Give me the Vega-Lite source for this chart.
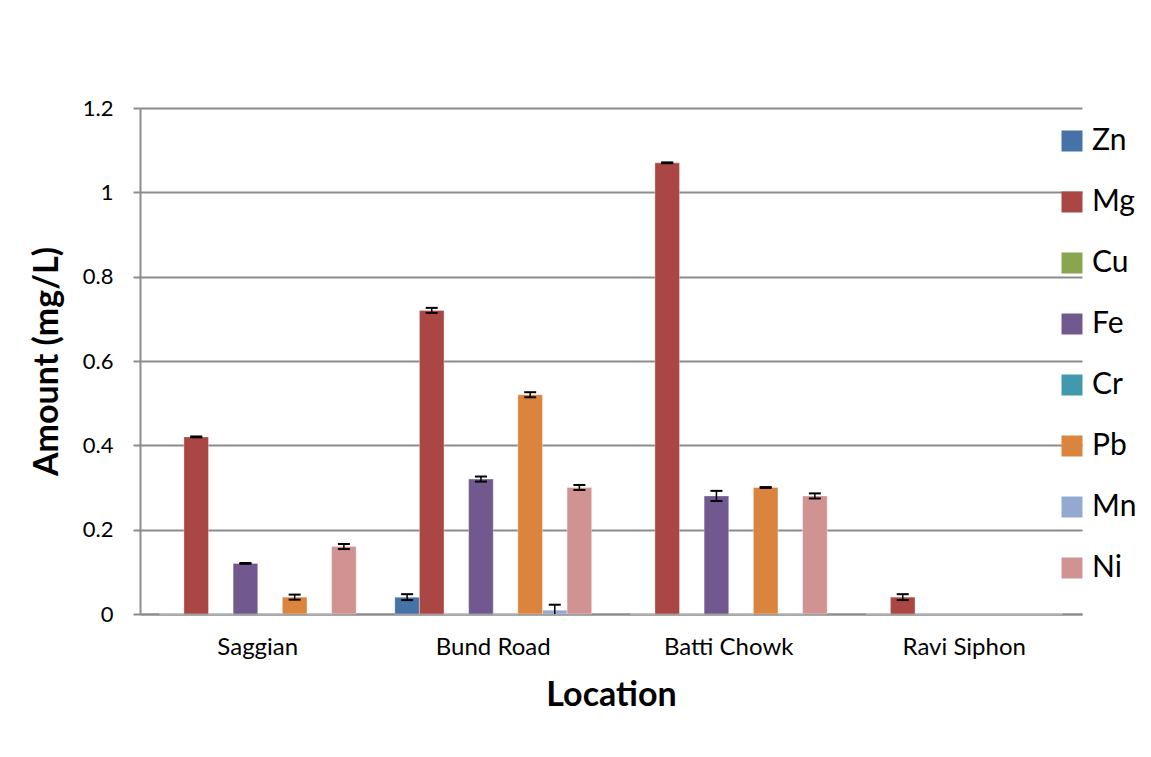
{
  "$schema": "https://vega.github.io/schema/vega-lite/v6.json",
  "width": 942,
  "height": 506,
  "autosize": {"type": "none"},
  "padding": {"left": 140, "top": 108, "right": 69, "bottom": 143},
  "background": "white",
  "config": {"view": {"stroke": null}, "font": "Lato"},
  "data": {
    "values": [
      {"location": "Saggian", "metal": "Zn", "value": 0, "lo": 0, "hi": 0},
      {"location": "Saggian", "metal": "Mg", "value": 0.42, "lo": 0.419, "hi": 0.421},
      {"location": "Saggian", "metal": "Cu", "value": 0, "lo": 0, "hi": 0},
      {"location": "Saggian", "metal": "Fe", "value": 0.12, "lo": 0.119, "hi": 0.121},
      {"location": "Saggian", "metal": "Cr", "value": 0, "lo": 0, "hi": 0},
      {"location": "Saggian", "metal": "Pb", "value": 0.04, "lo": 0.034, "hi": 0.046},
      {"location": "Saggian", "metal": "Mn", "value": 0, "lo": 0, "hi": 0},
      {"location": "Saggian", "metal": "Ni", "value": 0.16, "lo": 0.154, "hi": 0.166},
      {"location": "Bund Road", "metal": "Zn", "value": 0.04, "lo": 0.033, "hi": 0.047},
      {"location": "Bund Road", "metal": "Mg", "value": 0.72, "lo": 0.714, "hi": 0.726},
      {"location": "Bund Road", "metal": "Cu", "value": 0, "lo": 0, "hi": 0},
      {"location": "Bund Road", "metal": "Fe", "value": 0.32, "lo": 0.314, "hi": 0.326},
      {"location": "Bund Road", "metal": "Cr", "value": 0, "lo": 0, "hi": 0},
      {"location": "Bund Road", "metal": "Pb", "value": 0.52, "lo": 0.514, "hi": 0.526},
      {"location": "Bund Road", "metal": "Mn", "value": 0.009, "lo": 0, "hi": 0.022},
      {"location": "Bund Road", "metal": "Ni", "value": 0.30, "lo": 0.294, "hi": 0.306},
      {"location": "Batti Chowk", "metal": "Zn", "value": 0, "lo": 0, "hi": 0},
      {"location": "Batti Chowk", "metal": "Mg", "value": 1.07, "lo": 1.069, "hi": 1.071},
      {"location": "Batti Chowk", "metal": "Cu", "value": 0, "lo": 0, "hi": 0},
      {"location": "Batti Chowk", "metal": "Fe", "value": 0.28, "lo": 0.268, "hi": 0.292},
      {"location": "Batti Chowk", "metal": "Cr", "value": 0, "lo": 0, "hi": 0},
      {"location": "Batti Chowk", "metal": "Pb", "value": 0.30, "lo": 0.299, "hi": 0.301},
      {"location": "Batti Chowk", "metal": "Mn", "value": 0, "lo": 0, "hi": 0},
      {"location": "Batti Chowk", "metal": "Ni", "value": 0.28, "lo": 0.274, "hi": 0.286},
      {"location": "Ravi Siphon", "metal": "Zn", "value": 0, "lo": 0, "hi": 0},
      {"location": "Ravi Siphon", "metal": "Mg", "value": 0.04, "lo": 0.033, "hi": 0.047},
      {"location": "Ravi Siphon", "metal": "Cu", "value": 0, "lo": 0, "hi": 0},
      {"location": "Ravi Siphon", "metal": "Fe", "value": 0, "lo": 0, "hi": 0},
      {"location": "Ravi Siphon", "metal": "Cr", "value": 0, "lo": 0, "hi": 0},
      {"location": "Ravi Siphon", "metal": "Pb", "value": 0, "lo": 0, "hi": 0},
      {"location": "Ravi Siphon", "metal": "Mn", "value": 0, "lo": 0, "hi": 0},
      {"location": "Ravi Siphon", "metal": "Ni", "value": 0, "lo": 0, "hi": 0}
    ]
  },
  "encoding": {
    "x": {
      "field": "location",
      "type": "nominal",
      "sort": ["Saggian", "Bund Road", "Batti Chowk", "Ravi Siphon"],
      "scale": {"paddingInner": 0.164, "paddingOuter": 0.082},
      "title": "Location",
      "axis": {
        "labelAngle": 0,
        "labelFontSize": 24,
        "labelColor": "black",
        "labelPadding": 21,
        "ticks": false,
        "tickSize": 0,
        "domainColor": "#8c8c8c",
        "domainWidth": 2,
        "titleFontSize": 34,
        "titleFontWeight": "bold",
        "titleColor": "black",
        "titlePadding": 19
      }
    },
    "xOffset": {
      "field": "metal",
      "type": "nominal",
      "sort": ["Zn", "Mg", "Cu", "Fe", "Cr", "Pb", "Mn", "Ni"],
      "scale": {"paddingInner": 0, "paddingOuter": 0}
    }
  },
  "layer": [
    {
      "mark": {"type": "bar", "stroke": "white", "strokeOpacity": 0.35, "strokeWidth": 1},
      "encoding": {
        "y": {
          "field": "value",
          "type": "quantitative",
          "scale": {"domain": [0, 1.2], "nice": false},
          "title": "Amount (mg/L)",
          "axis": {
            "values": [0, 0.2, 0.4, 0.6, 0.8, 1, 1.2],
            "format": "~g",
            "labelFontSize": 22,
            "labelColor": "black",
            "labelPadding": 20,
            "tickSize": 7,
            "tickColor": "#8c8c8c",
            "tickWidth": 2,
            "domainColor": "#8c8c8c",
            "domainWidth": 2,
            "gridColor": "#8c8c8c",
            "gridWidth": 2,
            "titleFontSize": 34,
            "titleFontWeight": "bold",
            "titleColor": "black",
            "titlePadding": 18
          }
        },
        "color": {
          "field": "metal",
          "type": "nominal",
          "sort": ["Zn", "Mg", "Cu", "Fe", "Cr", "Pb", "Mn", "Ni"],
          "scale": {
            "domain": ["Zn", "Mg", "Cu", "Fe", "Cr", "Pb", "Mn", "Ni"],
            "range": ["#4572A7", "#AA4643", "#89A54E", "#71588F", "#4198AF", "#DB843D", "#93A9CF", "#D19392"]
          },
          "legend": {
            "title": null,
            "orient": "none",
            "legendX": 917,
            "legendY": 18,
            "symbolType": "square",
            "symbolSize": 441,
            "symbolStrokeWidth": 0,
            "labelFontSize": 30,
            "labelColor": "black",
            "labelOffset": 5,
            "rowPadding": 31
          }
        }
      }
    },
    {
      "transform": [{"filter": "datum.hi > 0"}],
      "mark": {"type": "rule", "color": "black", "strokeWidth": 1.5},
      "encoding": {
        "y": {"field": "lo", "type": "quantitative"},
        "y2": {"field": "hi"}
      }
    },
    {
      "transform": [{"filter": "datum.hi > 0"}],
      "mark": {"type": "tick", "color": "black", "size": 12, "thickness": 2, "opacity": 1},
      "encoding": {
        "y": {"field": "hi", "type": "quantitative"}
      }
    },
    {
      "transform": [{"filter": "datum.lo > 0"}],
      "mark": {"type": "tick", "color": "black", "size": 12, "thickness": 2, "opacity": 1},
      "encoding": {
        "y": {"field": "lo", "type": "quantitative"}
      }
    }
  ]
}
